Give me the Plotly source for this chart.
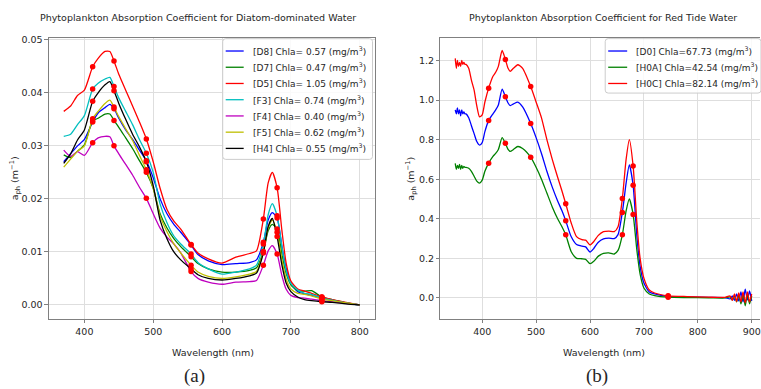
import plotly.graph_objects as go

# ---------------- data: (a) Diatom-dominated water ----------------
wl_a = [370, 380, 390, 400, 412, 420, 430, 437, 443, 450, 460, 470, 480, 490, 500, 510, 520, 530, 540, 555,
        565, 580, 600, 620, 640, 650, 660, 667, 673, 680, 687, 693, 700, 710, 720, 730, 745, 760, 780, 800]

D8 = [0.0270, 0.0285, 0.0300, 0.0312, 0.0345, 0.0362, 0.0372, 0.0378, 0.0370, 0.0352, 0.0330, 0.0312, 0.0292, 0.0272,
      0.0240, 0.0200, 0.0172, 0.0152, 0.0137, 0.0113, 0.0095, 0.0083, 0.0076, 0.0078, 0.0080, 0.0085, 0.0118, 0.0160,
      0.0174, 0.0164, 0.0110, 0.0070, 0.0040, 0.0025, 0.0021, 0.0018, 0.0013, 0.0009, 0.0004, 0.0000]
D7 = [0.0283, 0.0278, 0.0290, 0.0302, 0.0347, 0.0352, 0.0360, 0.0360, 0.0348, 0.0335, 0.0315, 0.0295, 0.0272, 0.0250,
      0.0220, 0.0172, 0.0145, 0.0125, 0.0110, 0.0091, 0.0078, 0.0068, 0.0062, 0.0062, 0.0065, 0.0070, 0.0101, 0.0140,
      0.0152, 0.0143, 0.0095, 0.0060, 0.0038, 0.0027, 0.0026, 0.0027, 0.0015, 0.0010, 0.0004, 0.0000]
D5 = [0.0365, 0.0375, 0.0395, 0.0405, 0.0449, 0.0465, 0.0478, 0.0478, 0.0460, 0.0435, 0.0405, 0.0375, 0.0345, 0.0313,
      0.0270, 0.0220, 0.0180, 0.0158, 0.0143, 0.0114, 0.0098, 0.0087, 0.0079, 0.0090, 0.0097, 0.0102, 0.0162, 0.0230,
      0.0250, 0.0221, 0.0140, 0.0080, 0.0045, 0.0030, 0.0026, 0.0022, 0.0015, 0.0010, 0.0005, 0.0000]
F3 = [0.0318, 0.0322, 0.0340, 0.0357, 0.0407, 0.0418, 0.0426, 0.0429, 0.0412, 0.0390, 0.0365, 0.0340, 0.0312, 0.0286,
      0.0250, 0.0190, 0.0155, 0.0130, 0.0115, 0.0096, 0.0080, 0.0068, 0.0058, 0.0062, 0.0068, 0.0075, 0.0115, 0.0170,
      0.0191, 0.0168, 0.0110, 0.0065, 0.0040, 0.0028, 0.0022, 0.0020, 0.0013, 0.0009, 0.0004, 0.0000]
F4 = [0.0292, 0.0280, 0.0289, 0.0282, 0.0306, 0.0315, 0.0318, 0.0317, 0.0300, 0.0285, 0.0265, 0.0245, 0.0222, 0.0201,
      0.0172, 0.0145, 0.0128, 0.0115, 0.0098, 0.0063, 0.0050, 0.0043, 0.0039, 0.0043, 0.0044, 0.0046, 0.0075, 0.0102,
      0.0112, 0.0096, 0.0055, 0.0030, 0.0018, 0.0014, 0.0013, 0.0011, 0.0008, 0.0006, 0.0003, 0.0000]
F5 = [0.0260, 0.0275, 0.0290, 0.0300, 0.0351, 0.0365, 0.0380, 0.0386, 0.0373, 0.0355, 0.0332, 0.0310, 0.0282, 0.0255,
      0.0220, 0.0168, 0.0138, 0.0115, 0.0098, 0.0075, 0.0062, 0.0054, 0.0050, 0.0053, 0.0058, 0.0063, 0.0100, 0.0145,
      0.0160, 0.0137, 0.0085, 0.0050, 0.0030, 0.0022, 0.0020, 0.0017, 0.0011, 0.0008, 0.0004, 0.0000]
H4 = [0.0267, 0.0285, 0.0311, 0.0330, 0.0384, 0.0400, 0.0415, 0.0421, 0.0404, 0.0380, 0.0350, 0.0322, 0.0298, 0.0270,
      0.0225, 0.0160, 0.0125, 0.0100, 0.0085, 0.0068, 0.0057, 0.0050, 0.0047, 0.0050, 0.0055, 0.0060, 0.0098, 0.0148,
      0.0163, 0.0129, 0.0075, 0.0042, 0.0025, 0.0015, 0.0010, 0.0008, 0.0006, 0.0005, 0.0002, 0.0000]

names_a = ["[D8] Chla= 0.57 (mg/m<sup>3</sup>)", "[D7] Chla= 0.47 (mg/m<sup>3</sup>)",
           "[D5] Chla= 1.05 (mg/m<sup>3</sup>)", "[F3] Chla= 0.74 (mg/m<sup>3</sup>)",
           "[F4] Chla= 0.40 (mg/m<sup>3</sup>)", "[F5] Chla= 0.62 (mg/m<sup>3</sup>)",
           "[H4] Chla= 0.55 (mg/m<sup>3</sup>)"]
series_a = [D8, D7, D5, F3, F4, F5, H4]
colors_a = ["#0000ff", "#008000", "#ff0000", "#00bfbf", "#bf00bf", "#bfbf00", "#000000"]

# ---------------- data: (b) Red tide water ----------------
wl_b = [350, 352, 354, 356, 358, 360, 362, 364, 366, 368, 370, 375, 380, 385, 390, 395, 400, 405, 412, 420,
        425, 430, 437, 443, 448, 452, 458, 466, 475, 490, 500, 510, 520, 530, 540, 548, 555, 565, 575, 585,
        592, 600, 607, 615, 625, 635, 645, 652, 660, 667, 673, 680, 687, 693, 700, 710, 720, 745, 780, 820,
        850, 860, 864, 868, 872, 876, 880, 884, 888, 892, 896, 900]

D0 = [0.95, 0.93, 0.96, 0.93, 0.95, 0.92, 0.95, 0.93, 0.94, 0.93, 0.93, 0.91, 0.87, 0.83, 0.79, 0.772, 0.785, 0.84,
      0.897, 0.93, 0.95, 0.975, 1.055, 1.017, 0.985, 0.972, 0.98, 0.989, 0.965, 0.881, 0.81, 0.73, 0.64, 0.56, 0.49,
      0.44, 0.39, 0.31, 0.27, 0.262, 0.258, 0.232, 0.25, 0.28, 0.298, 0.302, 0.30, 0.32, 0.432, 0.58, 0.672, 0.569,
      0.31, 0.16, 0.075, 0.03, 0.02, 0.008, 0.005, 0.003, 0.002, -0.005, 0.01, -0.012, 0.02, -0.015, 0.03, -0.02,
      0.045, -0.01, 0.035, -0.015]
H0A = [0.68, 0.65, 0.67, 0.655, 0.675, 0.65, 0.67, 0.655, 0.665, 0.66, 0.66, 0.655, 0.64, 0.615, 0.59, 0.58, 0.595,
       0.64, 0.681, 0.715, 0.73, 0.75, 0.81, 0.781, 0.75, 0.74, 0.75, 0.765, 0.755, 0.711, 0.66, 0.60, 0.53, 0.46,
       0.40, 0.36, 0.319, 0.235, 0.20, 0.198, 0.195, 0.173, 0.185, 0.21, 0.225, 0.228, 0.222, 0.24, 0.319, 0.44,
       0.50, 0.422, 0.24, 0.12, 0.05, 0.02, 0.012, 0.004, 0.002, 0.001, 0.0, 0.005, -0.01, 0.012, -0.02, 0.015,
       -0.03, 0.02, -0.04, 0.02, -0.03, 0.01]
H0C = [1.21, 1.16, 1.20, 1.17, 1.19, 1.17, 1.20, 1.18, 1.19, 1.18, 1.18, 1.16, 1.10, 1.05, 0.97, 0.915, 0.925, 0.99,
       1.06, 1.12, 1.14, 1.17, 1.25, 1.205, 1.16, 1.145, 1.16, 1.178, 1.16, 1.068, 0.99, 0.91, 0.80, 0.70, 0.61,
       0.54, 0.476, 0.38, 0.31, 0.295, 0.292, 0.268, 0.285, 0.315, 0.335, 0.338, 0.335, 0.36, 0.502, 0.70, 0.80,
       0.667, 0.38, 0.20, 0.10, 0.04, 0.025, 0.011, 0.007, 0.004, 0.003, 0.01, -0.012, 0.02, -0.018, 0.025, -0.02,
       0.03, -0.025, 0.03, -0.02, 0.02]

names_b = ["[D0] Chla=67.73 (mg/m<sup>3</sup>)", "[H0A] Chla=42.54 (mg/m<sup>3</sup>)",
           "[H0C] Chla=82.14 (mg/m<sup>3</sup>)"]
series_b = [D0, H0A, H0C]
colors_b = ["#0000ff", "#008000", "#ff0000"]

bands = [412, 443, 490, 555, 660, 680, 745]

FONT = "DejaVu Sans"
TXT = "#262626"
W, H = 761, 389


def px(x):
    return x / W


def py(y):
    return 1 - y / H


fig = go.Figure()

for name, ys, c in zip(names_a, series_a, colors_a):
    fig.add_trace(go.Scatter(x=wl_a, y=ys, mode="lines", name=name,
                             line=dict(color=c, width=1.3, shape="spline", smoothing=0.6),
                             xaxis="x", yaxis="y", showlegend=False))
for ys in series_a:
    fig.add_trace(go.Scatter(x=bands, y=[ys[wl_a.index(b)] for b in bands], mode="markers",
                             marker=dict(color="#ff0000", size=5.5), showlegend=False, xaxis="x", yaxis="y"))

for name, ys, c in zip(names_b, series_b, colors_b):
    fig.add_trace(go.Scatter(x=wl_b, y=ys, mode="lines", name=name,
                             line=dict(color=c, width=1.3, shape="spline", smoothing=0.6),
                             xaxis="x2", yaxis="y2", showlegend=False))
for ys in series_b:
    fig.add_trace(go.Scatter(x=bands, y=[ys[wl_b.index(b)] for b in bands], mode="markers",
                             marker=dict(color="#ff0000", size=5.5), showlegend=False, xaxis="x2", yaxis="y2"))

axis_common = dict(showgrid=True, gridcolor="#dedede", gridwidth=1, zeroline=False, showline=True,
                   linecolor="#808080", linewidth=1, ticks="outside", ticklen=3.5, tickcolor="#808080",
                   tickfont=dict(family=FONT, size=9.5, color=TXT), ticklabeloverflow="allow")

fig.update_layout(
    width=W, height=H, margin=dict(l=0, r=0, t=0, b=0),
    paper_bgcolor="white", plot_bgcolor="white",
    font=dict(family=FONT, color=TXT),
    showlegend=False,
    xaxis=dict(domain=[px(49), px(375)], range=[348.5, 821.5], tickvals=[400, 500, 600, 700, 800],
               anchor="y", mirror=True, **axis_common),
    yaxis=dict(domain=[py(318), py(34)], range=[-0.0026, 0.0504],
               tickvals=[0.0, 0.01, 0.02, 0.03, 0.04, 0.05], tickformat=".2f", anchor="x", mirror=True,
               **axis_common),
    xaxis2=dict(domain=[px(441), 1.0], range=[322.5, 915.4], tickvals=[400, 500, 600, 700, 800, 900],
                anchor="y2", mirror=True, **axis_common),
    yaxis2=dict(domain=[py(318), py(34)], range=[-0.105, 1.315],
                tickvals=[0.0, 0.2, 0.4, 0.6, 0.8, 1.0, 1.2], tickformat=".1f", anchor="x2", mirror=False,
                **axis_common),
)


# ---------------- legends (matplotlib-style boxes) ----------------
def rounded_box(x0, y0, x1, y1, r=3):
    p = (f"M {px(x0 + r)},{py(y0)} L {px(x1 - r)},{py(y0)} Q {px(x1)},{py(y0)} {px(x1)},{py(y0 + r)} "
         f"L {px(x1)},{py(y1 - r)} Q {px(x1)},{py(y1)} {px(x1 - r)},{py(y1)} "
         f"L {px(x0 + r)},{py(y1)} Q {px(x0)},{py(y1)} {px(x0)},{py(y1 - r)} "
         f"L {px(x0)},{py(y0 + r)} Q {px(x0)},{py(y0)} {px(x0 + r)},{py(y0)} Z")
    fig.add_shape(type="path", path=p, xref="paper", yref="paper", layer="above",
                  line=dict(color="#cccccc", width=1), fillcolor="rgba(255,255,255,0.85)")


def legend(names, colors, box, x_line0, x_line1, x_text, y_first, dy):
    rounded_box(*box)
    for i, (n, c) in enumerate(zip(names, colors)):
        yy = y_first + i * dy
        fig.add_shape(type="line", xref="paper", yref="paper", layer="above",
                      x0=px(x_line0), x1=px(x_line1), y0=py(yy), y1=py(yy), line=dict(color=c, width=1.3))
        fig.add_annotation(text=n, x=px(x_text), y=py(yy), xref="paper", yref="paper", xanchor="left",
                           yanchor="middle", showarrow=False, font=dict(family=FONT, size=9, color=TXT))


legend(names_a, colors_a, (223, 35, 373, 157), 226, 244, 251, 47.5, 16.4)
legend(names_b, colors_b, (606, 35, 762, 90), 609, 628, 635, 47.5, 16.4)

annots = [
    dict(text="Phytoplankton Absorption Coefficient for Diatom-dominated Water", x=198, y=14, size=9.5, fam=FONT, ang=0),
    dict(text="Phytoplankton Absorption Coefficient for Red Tide Water", x=604, y=14, size=9.5, fam=FONT, ang=0),
    dict(text="Wavelength (nm)", x=213, y=352, size=9.5, fam=FONT, ang=0),
    dict(text="Wavelength (nm)", x=605, y=352, size=9.5, fam=FONT, ang=0),
    dict(text="a<sub>ph</sub> (m<sup>\u22121</sup>)", x=15, y=176, size=9.5, fam=FONT, ang=-90),
    dict(text="a<sub>ph</sub> (m<sup>\u22121</sup>)", x=412, y=176, size=9.5, fam=FONT, ang=-90),
    dict(text="(a)", x=195, y=376, size=19, fam="Liberation Serif", ang=0),
    dict(text="(b)", x=598, y=376, size=19, fam="Liberation Serif", ang=0),
]
for a in annots:
    fig.add_annotation(text=a["text"], x=px(a["x"]), y=py(a["y"]), xref="paper", yref="paper",
                       xanchor="center", yanchor="middle", showarrow=False, textangle=a["ang"],
                       font=dict(family=a["fam"], size=a["size"], color=TXT))

fig.write_html("out.html")
